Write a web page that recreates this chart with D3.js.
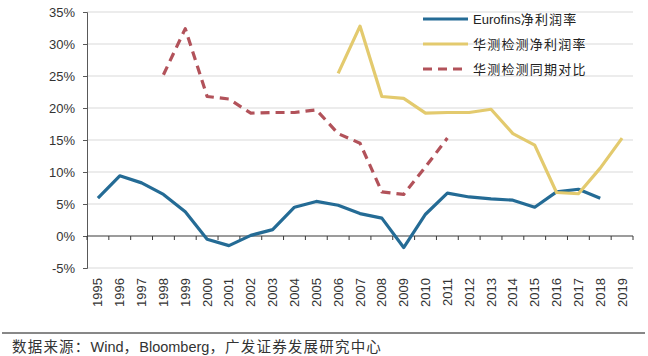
<!DOCTYPE html>
<html><head><meta charset="utf-8">
<script src="https://cdn.jsdelivr.net/npm/d3@7"></script>
<style>
body{margin:0;background:#fff;}
svg{display:block;}
text{font-family:"Liberation Sans",Arial,"Noto Sans CJK SC",sans-serif;}
</style></head>
<body>
<svg id="chart" width="648" height="356"></svg>
<script>
const years = ["1995","1996","1997","1998","1999","2000","2001","2002","2003","2004","2005","2006","2007","2008","2009","2010","2011","2012","2013","2014","2015","2016","2017","2018","2019"];
const eurofins = [5.9,9.4,8.3,6.5,3.8,-0.5,-1.5,0.1,1.0,4.5,5.4,4.8,3.5,2.8,-1.8,3.4,6.7,6.1,5.8,5.6,4.5,6.9,7.3,5.9,null];
const huace = [null,null,null,null,null,null,null,null,null,null,null,25.4,32.8,21.8,21.5,19.2,19.3,19.3,19.8,16.0,14.2,6.8,6.6,10.6,15.3];
const huaceComp = [null,null,null,25.2,32.4,21.8,21.4,19.2,19.3,19.3,19.7,16.0,14.5,6.9,6.5,10.8,15.3,null,null,null,null,null,null,null,null];
const yTicks = [-5,0,5,10,15,20,25,30,35];
const seriesNames = ["Eurofins净利润率","华测检测净利润率","华测检测同期对比"];
const source = "数据来源：Wind，Bloomberg，广发证券发展研究中心";

(function () {
const svg = d3.select("#chart");
const pL = 87, pR = 633, pT = 12, pB = 268;
const x = d3.scaleBand().domain(years).range([pL, pR]);
const y = d3.scaleLinear().domain([-5, 35]).range([pB, pT]);

// split text into runs of CJK / non-CJK so CJK glyphs can be spaced wider
function richText(sel, str, cjkSpacing) {
  const runs = str.match(/[\u3000-\u9fff\uff00-\uffef]+|[^\u3000-\u9fff\uff00-\uffef]+/g);
  runs.forEach(r => {
    const cjk = /[\u3000-\u9fff\uff00-\uffef]/.test(r);
    sel.append("tspan").attr("letter-spacing", cjk ? cjkSpacing : 0).text(r);
  });
}

// gridlines
svg.append("g").selectAll("line").data(yTicks.filter(d => d !== 0)).join("line")
  .attr("x1", pL).attr("x2", pR).attr("y1", d => y(d)).attr("y2", d => y(d))
  .attr("stroke", "#d9d9d9").attr("stroke-width", 1);

// y axis
const yAxis = d3.axisLeft(y).tickValues(yTicks).tickFormat(d => d + "%").tickSize(4).tickPadding(8);
const gy = svg.append("g").attr("transform", `translate(${pL},0)`).call(yAxis);
gy.select(".domain").attr("stroke", "#595959");
gy.selectAll(".tick line").attr("stroke", "#595959");
gy.selectAll("text").attr("font-size", 13).attr("fill", "#333").attr("font-family", null);

// x axis line at zero with ticks at band boundaries
const gx = svg.append("g");
gx.append("line").attr("x1", pL).attr("x2", pR).attr("y1", y(0)).attr("y2", y(0))
  .attr("stroke", "#3a3a3a").attr("stroke-width", 1.2);
const bounds = years.map(d => x(d)).concat([pR]);
gx.selectAll("line.tk").data(bounds).join("line").attr("class", "tk")
  .attr("x1", d => d).attr("x2", d => d).attr("y1", y(0)).attr("y2", y(0) + 4)
  .attr("stroke", "#3a3a3a");

// year labels at bottom, rotated
svg.append("g").selectAll("text").data(years).join("text")
  .attr("transform", d => `translate(${x(d) + x.bandwidth() / 2 + 4.5},${pB + 10}) rotate(-90)`)
  .attr("text-anchor", "end").attr("font-size", 13).attr("fill", "#333")
  .text(d => d);

// lines
const line = d3.line().defined(d => d.v != null)
  .x(d => x(d.year) + x.bandwidth() / 2).y(d => y(d.v));
const mk = arr => years.map((yr, i) => ({year: yr, v: arr[i]}));
const styles = [
  {data: eurofins, color: "#246B95", dash: null},
  {data: huace, color: "#E3CA6E", dash: null},
  {data: huaceComp, color: "#B2525A", dash: "9,6"}
];
styles.forEach(s => {
  svg.append("path").datum(mk(s.data)).attr("d", line)
    .attr("fill", "none").attr("stroke", s.color).attr("stroke-width", 3.2)
    .attr("stroke-dasharray", s.dash).attr("stroke-linejoin", "round");
});

// legend
const lg = svg.append("g");
seriesNames.forEach((name, i) => {
  const yy = 19 + i * 25;
  lg.append("line").attr("x1", 423).attr("x2", 468).attr("y1", yy).attr("y2", yy)
    .attr("stroke", styles[i].color).attr("stroke-width", 3.2).attr("stroke-dasharray", styles[i].dash);
  const t = lg.append("text").attr("x", 473).attr("y", yy + 4.5).attr("font-size", 13).attr("fill", "#222");
  richText(t, name, 1.2);
});

// footer
svg.append("line").attr("x1", 2).attr("x2", 645).attr("y1", 333).attr("y2", 333).attr("stroke", "#111").attr("stroke-width", 1);
const ft = svg.append("text").attr("x", 12).attr("y", 352).attr("font-size", 14.5).attr("fill", "#333");
richText(ft, source, 1.2);
})();
</script>
</body></html>
